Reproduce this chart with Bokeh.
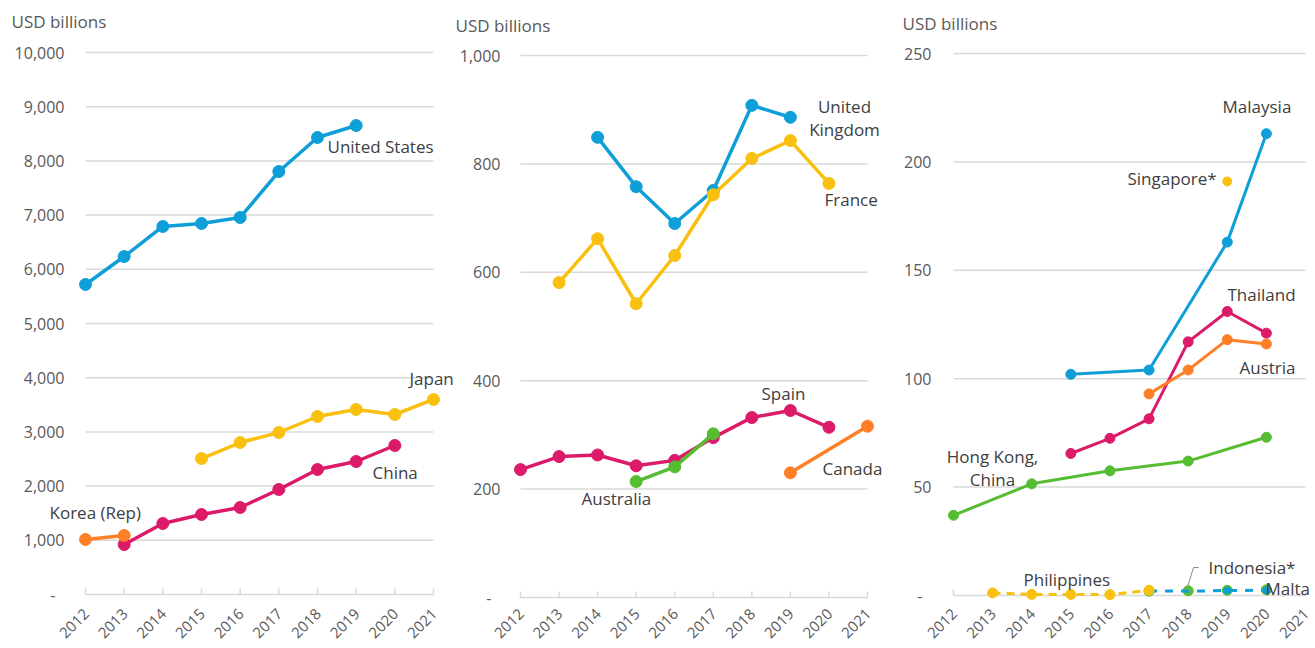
from bokeh.plotting import figure
from bokeh.layouts import row
from bokeh.models import Range1d
from bokeh.embed import file_html
from bokeh.resources import INLINE
from bokeh.core.properties import value
import math

# ---------------- data ----------------
YEARS = list(range(2012, 2022))
YEAR_LABELS = [str(y) for y in YEARS]
UNIT_LABEL = "USD billions"

# Panel 1
p1_yticks = [0, 1000, 2000, 3000, 4000, 5000, 6000, 7000, 8000, 9000, 10000]
p1_ylabels = ["-", "1,000", "2,000", "3,000", "4,000", "5,000", "6,000", "7,000", "8,000", "9,000", "10,000"]
us_years = [2012, 2013, 2014, 2015, 2016, 2017, 2018, 2019]
us_vals = [5720, 6236, 6790, 6845, 6956, 7804, 8432, 8653]
japan_years = [2015, 2016, 2017, 2018, 2019, 2020, 2021]
japan_vals = [2509, 2804, 2989, 3284, 3413, 3321, 3598]
china_years = [2013, 2014, 2015, 2016, 2017, 2018, 2019, 2020]
china_vals = [922, 1310, 1476, 1605, 1937, 2306, 2454, 2749]
korea_years = [2012, 2013]
korea_vals = [1015, 1089]

# Panel 2
p2_yticks = [0, 200, 400, 600, 800, 1000]
p2_ylabels = ["-", "200", "400", "600", "800", "1,000"]
uk_years = [2014, 2015, 2016, 2017, 2018, 2019]
uk_vals = [849, 758, 690, 751, 908, 886]
france_years = [2013, 2014, 2015, 2016, 2017, 2018, 2019, 2020]
france_vals = [581, 662, 542, 631, 743, 810, 843, 764]
spain_years = [2012, 2013, 2014, 2015, 2016, 2017, 2018, 2019, 2020]
spain_vals = [236, 260, 263, 243, 253, 295, 332, 345, 314]
australia_years = [2015, 2016, 2017]
australia_vals = [214, 241, 302]
canada_years = [2019, 2021]
canada_vals = [230, 316]

# Panel 3
p3_yticks = [0, 50, 100, 150, 200, 250]
p3_ylabels = ["-", "50", "100", "150", "200", "250"]
malaysia_years = [2015, 2017, 2019, 2020]
malaysia_vals = [102, 104, 163, 213]
singapore_years = [2019]
singapore_vals = [191]
thailand_years = [2015, 2016, 2017, 2018, 2019, 2020]
thailand_vals = [65.5, 72.5, 81.5, 117, 131, 121]
austria_years = [2017, 2018, 2019, 2020]
austria_vals = [93, 104, 118, 116]
hk_years = [2012, 2014, 2016, 2018, 2020]
hk_vals = [37, 51.5, 57.5, 62, 73]
philippines_years = [2013, 2014, 2015, 2016, 2017]
philippines_vals = [1.2, 0.5, 0.5, 0.4, 2.4]
indonesia_years = [2017, 2018, 2019, 2020]
indonesia_vals = [2.0, 2.2, 2.4, 2.6]
malta_years = [2017, 2018, 2019, 2020]
malta_vals = [2.1, 2.0, 2.3, 2.4]

# ---------------- style ----------------
BLUE = "#0E9FD8"
YELLOW = "#F9C010"
MAGENTA = "#DC1A6A"
ORANGE = "#FF7F27"
GREEN = "#56BD33"
GRID = "#D9D9D9"
TICK_TXT = "#595959"
LBL_TXT = "#404040"
FONT = "Open Sans"
ORIGIN_Y = 1      # picture y of the figures' top edge
H = 645
XLABEL_Y = 612    # picture y of the rotated year labels' anchor


class Panel:
    """Full-canvas frame; geometry given in picture pixels."""

    def __init__(self, fig_left, width, x0_px, x1_px, top_px, zero_px, ymax,
                 yticks, ylabels, ylabel_right_px, title_xy):
        self.pxyr = (x1_px - x0_px) / (YEARS[-1] - YEARS[0])
        self.x0_px = x0_px
        self.zero_px = zero_px
        self.u = ymax / (zero_px - top_px)
        xs = YEARS[0] - (x0_px - fig_left) / self.pxyr
        xe = YEARS[0] + (fig_left + width - x0_px) / self.pxyr
        ys = -(ORIGIN_Y + H - zero_px) * self.u
        ye = (zero_px - ORIGIN_Y) * self.u
        p = figure(width=width, height=H, x_range=Range1d(xs, xe), y_range=Range1d(ys, ye),
                   output_backend="svg", toolbar_location=None,
                   x_axis_location=None, y_axis_location=None, min_border=0)
        p.outline_line_color = None
        p.grid.visible = False
        self.p = p

        # gridlines
        gv = [t for t in yticks if t != 0]
        p.segment(x0=[YEARS[0]] * len(gv), x1=[YEARS[-1]] * len(gv), y0=gv, y1=gv,
                  line_color=GRID, line_width=1.5)
        # baseline + ticks (upward)
        p.segment(x0=[YEARS[0]], x1=[YEARS[-1]], y0=[0], y1=[0], line_color=GRID, line_width=1.5)
        p.segment(x0=YEARS, x1=YEARS, y0=[0] * len(YEARS), y1=[6 * self.u] * len(YEARS),
                  line_color=GRID, line_width=1.5)
        # y tick labels
        p.text(x=[self.x(ylabel_right_px)] * len(yticks), y=yticks, text=ylabels,
               x_offset=[-9 if t == 0 else 0 for t in yticks],
               text_align="right", text_baseline="middle",
               text_font=value(FONT), text_font_size=value("16px"), text_color=TICK_TXT)
        # x tick labels
        p.text(x=YEARS, y=[self.y(XLABEL_Y)] * len(YEARS), text=YEAR_LABELS, angle=math.pi / 4,
               x_offset=[1] * len(YEARS),
               text_align="right", text_baseline="middle",
               text_font=value(FONT), text_font_size=value("15px"), text_color=TICK_TXT)
        # unit title
        p.text(x=[self.x(title_xy[0])], y=[self.y(title_xy[1])], text=[UNIT_LABEL],
               text_align="left", text_baseline="middle",
               text_font=value(FONT), text_font_size=value("17px"), text_color=TICK_TXT)

    def x(self, px):
        return YEARS[0] + (px - self.x0_px) / self.pxyr

    def y(self, py):
        return (self.zero_px - py) * self.u

    def series(self, xs, ys, color, lw=3.5, size=12, dash="solid"):
        if len(xs) > 1:
            self.p.line(xs, ys, line_color=color, line_width=lw, line_dash=dash)
        self.p.scatter(xs, ys, size=size, fill_color=color, line_color=color)

    def label(self, px, py, text, align="left"):
        self.p.text(x=[self.x(px)], y=[self.y(py)], text=[text], text_align=align,
                    text_baseline="middle", text_line_height=1.0,
                    text_font=value(FONT), text_font_size=value("17px"), text_color=LBL_TXT)


# ---------------- panel 1 ----------------
a = Panel(1, 454, 86, 434, 53, 595, 10000, p1_yticks, p1_ylabels, 65, (12, 22))
a.series(us_years, us_vals, BLUE)
a.series(japan_years, japan_vals, YELLOW)
a.series(china_years, china_vals, MAGENTA)
a.series(korea_years, korea_vals, ORANGE)
a.label(328, 147, "United States")
a.label(410, 379, "Japan")
a.label(373, 473, "China")
a.label(50, 513, "Korea (Rep)")

# ---------------- panel 2 ----------------
b = Panel(455, 435, 521, 868, 56, 598, 1000, p2_yticks, p2_ylabels, 501, (456, 26))
b.series(uk_years, uk_vals, BLUE)
b.series(france_years, france_vals, YELLOW)
b.series(spain_years, spain_vals, MAGENTA)
b.series(australia_years, australia_vals, GREEN)
b.series(canada_years, canada_vals, ORANGE)
b.label(845, 118, "United\nKingdom", align="center")
b.label(825, 200, "France")
b.label(762, 394, "Spain")
b.label(582, 499, "Australia")
b.label(823, 469, "Canada")

# ---------------- panel 3 ----------------
c = Panel(890, 424, 954, 1306, 54, 596, 250, p3_yticks, p3_ylabels, 932, (903, 24))
c.series(malaysia_years, malaysia_vals, BLUE, lw=3, size=10)
c.series(thailand_years, thailand_vals, MAGENTA, lw=3, size=10)
c.series(austria_years, austria_vals, ORANGE, lw=3, size=10)
c.series(hk_years, hk_vals, GREEN, lw=3, size=10)
c.p.scatter(singapore_years, singapore_vals, size=9, fill_color=YELLOW, line_color=YELLOW)
c.p.scatter(indonesia_years, indonesia_vals, size=10, fill_color=GREEN, line_color=GREEN)
c.p.line(malta_years, malta_vals, line_color=BLUE, line_width=3, line_dash="8 8")
c.p.scatter(malta_years[2:], malta_vals[2:], size=7, fill_color=BLUE, line_color=BLUE)
c.series(philippines_years, philippines_vals, YELLOW, lw=3, size=10, dash="8 6")
c.p.line([c.x(1199), c.x(1194), c.x(1187)], [c.y(568), c.y(568), c.y(591)],
         line_color="#8C8C8C", line_width=1)
c.label(1223, 107, "Malaysia")
c.label(1128, 179, "Singapore*")
c.label(1228, 295, "Thailand")
c.label(1240, 368, "Austria")
c.label(993, 468, "Hong Kong,\nChina", align="center")
c.label(1024, 580, "Philippines")
c.label(1209, 568, "Indonesia*")
c.label(1266, 589, "Malta")

layout = row(a.p, b.p, c.p, spacing=0)
open("out.html", "w").write(file_html(layout, INLINE))
